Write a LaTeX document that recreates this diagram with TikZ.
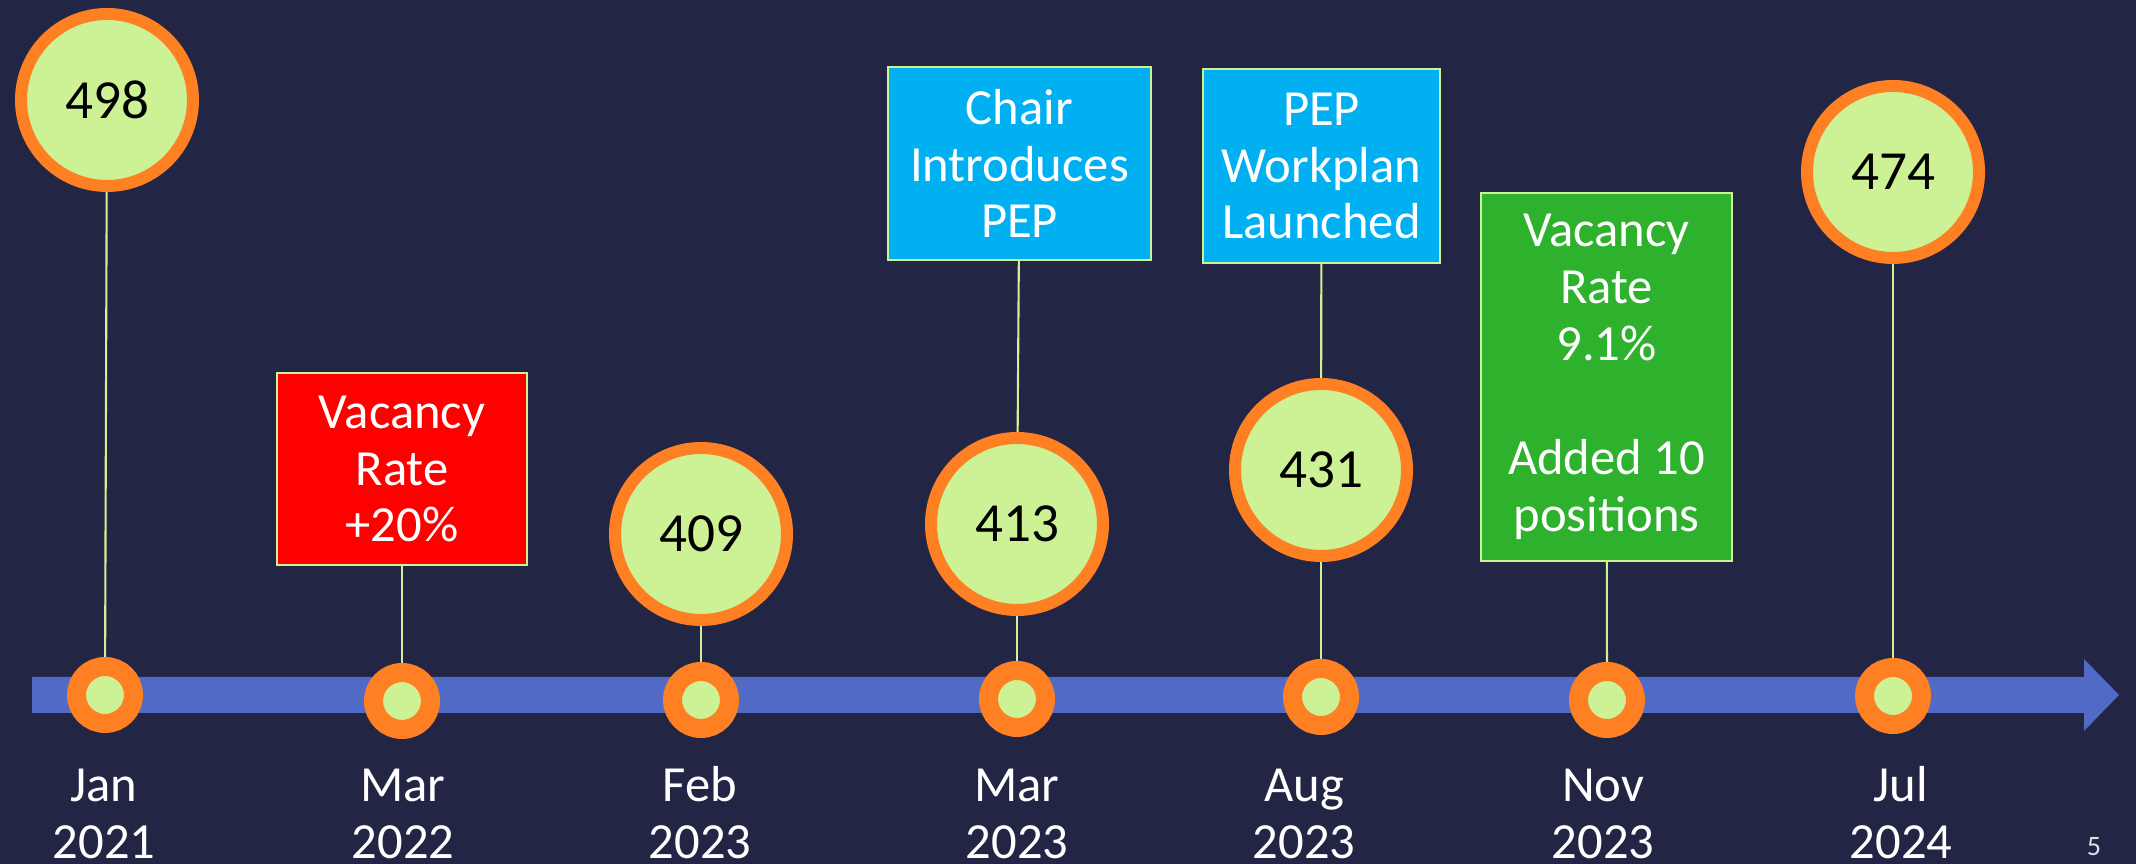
\documentclass[tikz,border=0pt]{standalone}
\usepackage{fontspec}
\setmainfont{Carlito}
\definecolor{SlideBg}{RGB}{34, 38, 68}
\definecolor{BarBlue}{RGB}{80, 106, 198}
\definecolor{RingOrange}{RGB}{255, 128, 34}
\definecolor{PaleGreen}{RGB}{204, 242, 149}
\definecolor{AlertRed}{RGB}{255, 0, 0}
\definecolor{SkyBlue}{RGB}{0, 176, 240}
\definecolor{GoodGreen}{RGB}{46, 178, 46}
\usetikzlibrary{arrows.meta}

\begin{document}
\begin{tikzpicture}[
        count/.style={circle, fill=PaleGreen, draw=RingOrange, line width=0.12cm, minimum size=1.72cm, inner sep=0pt, font=\fontsize{15.7}{18}\selectfont},
        dot/.style={circle, fill=PaleGreen, draw=RingOrange, line width=0.19cm, minimum size=0.57cm, inner sep=0pt},
        event/.style={rectangle, draw=PaleGreen, line width=0.6pt, text=white, align=center, inner sep=0pt, font=\fontsize{14.4}{16.2}\selectfont},
        date/.style={anchor=south, text=white, align=center, inner sep=0pt, outer sep=0pt, font=\fontsize{14.4}{16.2}\selectfont},
        stem/.style={draw=PaleGreen, line width=0.6pt}
    ]
        \fill[SlideBg] (0,0) rectangle (21.36,8.64);
        \useasboundingbox (0,0) rectangle (21.36,8.64);

        % timeline bar with its head
        \fill[BarBlue] (0.32,1.51) -- (20.84,1.51) -- (20.84,1.33) -- (21.19,1.69)
            -- (20.84,2.05) -- (20.84,1.87) -- (0.32,1.87) -- cycle;

        % Jan 2021
        \node[dot] (s1) at (1.05, 1.69) {};
        \node[count] (b1) at (1.07, 7.64) {498};
        \draw[stem] (b1) -- (s1);
        \node[date] (d1) at (1.04, 0.05) {Jan\\2021};

        % Mar 2022
        \node[dot] (s2) at (4.02, 1.63) {};
        \node[event, fill=AlertRed, minimum width=2.50cm, minimum height=1.92cm] (m2) at (4.02, 3.95) {Vacancy\\Rate\\+20\%};
        \draw[stem] (m2) -- (s2);
        \node[date] (d2) at (4.03, 0.05) {Mar\\2022};

        % Feb 2023
        \node[dot] (s3) at (7.01, 1.64) {};
        \node[count] (b3) at (7.01, 3.30) {409};
        \draw[stem] (b3) -- (s3);
        \node[date] (d3) at (7.00, 0.05) {Feb\\2023};

        % Mar 2023
        \node[dot] (s4) at (10.17, 1.65) {};
        \node[count] (b4) at (10.17, 3.40) {413};
        \node[event, fill=SkyBlue, minimum width=2.63cm, minimum height=1.93cm] (m4) at (10.195, 7.005) {Chair\\Introduces\\PEP};
        \draw[stem] (m4) -- (b4);
        \draw[stem] (b4) -- (s4);
        \node[date] (d4) at (10.17, 0.05) {Mar\\2023};

        % Aug 2023
        \node[dot] (s5) at (13.21, 1.67) {};
        \node[count] (b5) at (13.21, 3.94) {431};
        \node[event, fill=SkyBlue, minimum width=2.37cm, minimum height=1.94cm] (m5) at (13.215, 6.98) {PEP\\Workplan\\Launched};
        \draw[stem] (m5) -- (b5);
        \draw[stem] (b5) -- (s5);
        \node[date] (d5) at (13.04, 0.05) {Aug\\2023};

        % Nov 2023
        \node[dot] (s6) at (16.07, 1.64) {};
        \node[event, fill=GoodGreen, minimum width=2.51cm, minimum height=3.68cm] (m6) at (16.065, 4.87) {Vacancy\\Rate\\9.1\%\\[16.2pt]Added 10\\positions};
        \draw[stem] (m6) -- (s6);
        \node[date] (d6) at (16.03, 0.05) {Nov\\2023};

        % Jul 2024
        \node[dot] (s7) at (18.93, 1.68) {};
        \node[count] (b7) at (18.93, 6.92) {474};
        \draw[stem] (b7) -- (s7);
        \node[date] (d7) at (19.01, 0.05) {Jul\\2024};

        % slide number
        \node[text=white!85!SlideBg, font=\fontsize{8}{9}\selectfont] (pg) at (20.94, 0.17) {5};
    \end{tikzpicture}
\end{document}
